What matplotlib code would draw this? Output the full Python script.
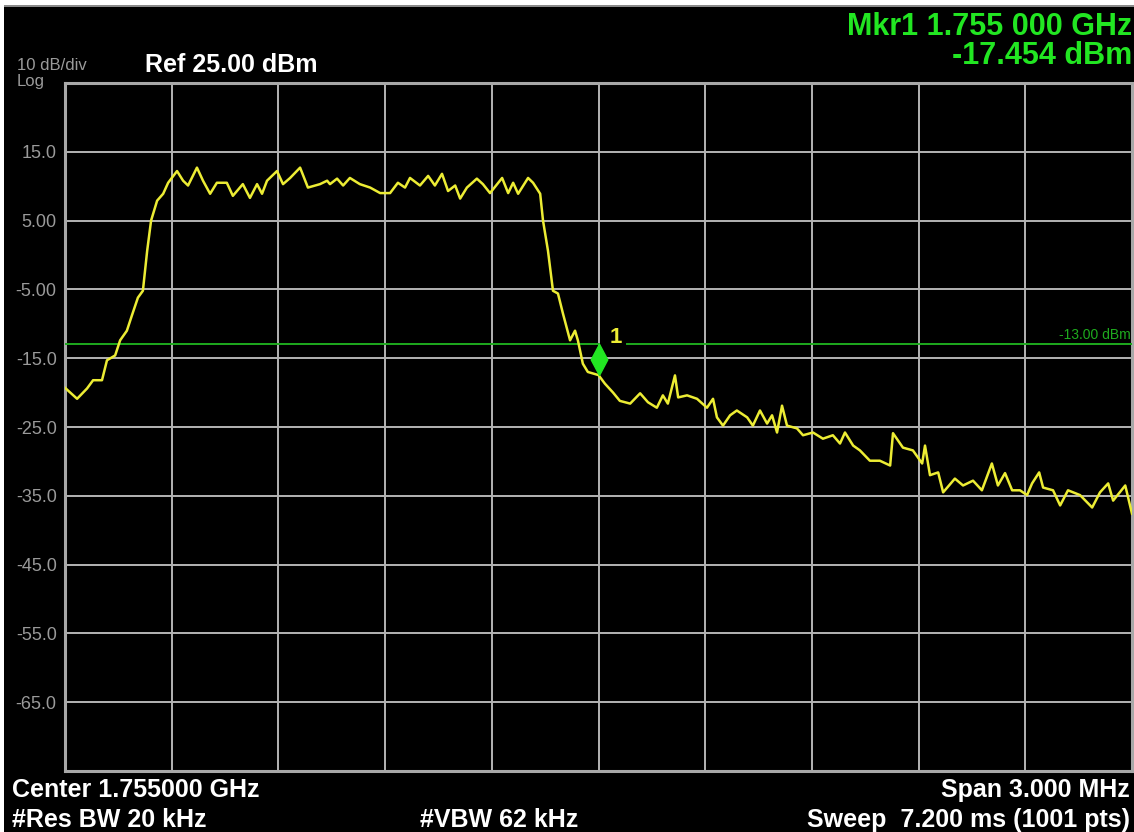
'''
Spectrum analyser screen: LTE-like channel at 1.755 GHz with -13 dBm limit
'''

import numpy as np
import matplotlib
matplotlib.use('Agg')
import matplotlib.pyplot as plt
from matplotlib.path import Path

# frequency offset from centre [MHz] and level [dBm]
freq_mhz = [-1.500, -1.466, -1.438, -1.421, -1.396, -1.382, -1.359, -1.345, -1.326,
            -1.312, -1.295, -1.281, -1.269, -1.258, -1.241, -1.224, -1.210, -1.185,
            -1.168, -1.154, -1.129, -1.112, -1.092, -1.073, -1.045, -1.028, -1.000,
            -0.980, -0.960, -0.946, -0.932, -0.904, -0.887, -0.867, -0.839, -0.817,
            -0.783, -0.763, -0.755, -0.735, -0.718, -0.699, -0.671, -0.642, -0.614,
            -0.586, -0.564, -0.544, -0.530, -0.502, -0.479, -0.460, -0.440, -0.423,
            -0.403, -0.389, -0.370, -0.342, -0.325, -0.305, -0.271, -0.254, -0.240,
            -0.226, -0.198, -0.184, -0.164, -0.156, -0.142, -0.128, -0.114, -0.100,
            -0.080, -0.066, -0.058, -0.044, -0.030, 0.000, 0.018, 0.041, 0.060,
            0.089, 0.117, 0.139, 0.164, 0.181, 0.195, 0.215, 0.224, 0.249, 0.277,
            0.305, 0.322, 0.333, 0.350, 0.370, 0.389, 0.418, 0.434, 0.454, 0.474,
            0.488, 0.502, 0.516, 0.530, 0.558, 0.575, 0.603, 0.631, 0.659, 0.679,
            0.693, 0.716, 0.735, 0.763, 0.791, 0.820, 0.828, 0.856, 0.884, 0.910,
            0.918, 0.932, 0.955, 0.969, 1.002, 1.025, 1.053, 1.078, 1.106, 1.123,
            1.143, 1.163, 1.185, 1.205, 1.219, 1.239, 1.250, 1.278, 1.298, 1.320,
            1.354, 1.388, 1.410, 1.433, 1.447, 1.481, 1.500]
level_dbm = [-19.3, -20.9, -19.4, -18.2, -18.2, -15.3, -14.6, -12.4, -11.0,
             -8.8, -6.2, -5.2, 0.6, 5.0, 7.9, 8.9, 10.5, 12.2,
             10.8, 10.1, 12.7, 10.8, 8.9, 10.5, 10.5, 8.6, 10.3,
             8.3, 10.3, 8.9, 10.8, 12.2, 10.3, 11.2, 12.7, 9.8,
             10.3, 10.8, 10.3, 11.1, 10.1, 11.2, 10.3, 9.8, 9.0,
             9.0, 10.5, 9.8, 11.2, 10.1, 11.5, 10.1, 11.8, 9.3,
             10.1, 8.2, 9.8, 11.1, 10.3, 9.0, 11.2, 9.0, 10.5,
             8.9, 11.2, 10.5, 8.9, 5.0, 0.6, -5.2, -5.6, -8.5,
             -12.4, -11.0, -12.4, -15.8, -17.0, -17.454, -18.7, -20.0, -21.2,
             -21.6, -20.1, -21.4, -22.2, -20.4, -21.6, -17.5, -20.7, -20.4, -20.9,
             -22.2, -20.9, -23.6, -24.8, -23.3, -22.6, -23.6, -24.8, -22.6, -24.5,
             -23.3, -25.8, -21.9, -24.8, -25.2, -26.2, -25.8, -26.7, -26.2, -27.4,
             -25.8, -27.7, -28.4, -29.9, -29.9, -30.6, -25.9, -28.0, -28.4, -30.3,
             -27.7, -32.0, -31.6, -34.5, -32.5, -33.5, -32.8, -34.2, -30.3, -33.5,
             -31.7, -34.2, -34.2, -34.9, -33.2, -31.6, -33.8, -34.2, -36.4, -34.2,
             -34.9, -36.7, -34.5, -33.2, -35.7, -33.5, -37.6]

ref_level = 25.0
db_per_div = 10.0
span_mhz = 3.0
limit_dbm = -13.0
marker_mhz = 0.0
marker_dbm = -17.454
ytick_labels = ['15.0', '5.00', '-5.00', '-15.0', '-25.0', '-35.0', '-45.0', '-55.0', '-65.0']

W, H = 1134, 832
BG = 'black'
GRID = '#b4b4b4'
TRACE = '#ecec34'
GREEN = '#22e622'
LABEL = '#9a9a9a'


def fig_xy(x, y):
    # pixel position on the screen -> figure fraction
    return x / W, 1 - y / H


plt.rc('font', family=['Liberation Sans', 'DejaVu Sans'])

fig = plt.figure(figsize=(W / 100, H / 100), dpi=100, facecolor=BG)

left, top = fig_xy(65, 83)
right, bottom = fig_xy(1132, 771)
ax = fig.add_axes([left, bottom, right - left, top - bottom], facecolor=BG)

bottom_db = ref_level - 10 * db_per_div
ax.set_ylim(bottom_db, ref_level)
ax.set_xlim(-span_mhz / 2, span_mhz / 2)

ax.set_xticks(np.linspace(-span_mhz / 2, span_mhz / 2, 11))
ax.set_yticks(np.arange(bottom_db, ref_level + 1, db_per_div))
ax.set_xticklabels([])
ax.set_yticklabels([''] + ytick_labels[::-1] + [''])
ax.tick_params(length=0, colors=LABEL, labelsize=13, pad=6)
ax.grid(True, color=GRID, lw=1.4)
ax.set_axisbelow(True)
for sp in ax.spines.values():
    sp.set_color('#a8a8a8')
    sp.set_linewidth(2.2)

# limit line with a gap around the marker label
gap = 0.08
ax.plot([-span_mhz / 2, marker_mhz], [limit_dbm, limit_dbm], color='#1eaa1e', lw=1.4, zorder=3)
ax.plot([marker_mhz + gap, span_mhz / 2], [limit_dbm, limit_dbm], color='#1eaa1e', lw=1.4, zorder=3)
ax.text(span_mhz / 2 - 0.003, limit_dbm + 0.4, '-13.00 dBm', color='#1eaa1e',
        fontsize=10, ha='right', va='bottom')

ax.plot(freq_mhz, level_dbm, color=TRACE, lw=1.8, zorder=4)

# marker diamond sits on the trace with its lower tip
diamond = Path([(0, 0), (0.53, 1), (0, 2), (-0.53, 1), (0, 0)],
               [Path.MOVETO, Path.LINETO, Path.LINETO, Path.LINETO, Path.CLOSEPOLY])
ax.plot([marker_mhz], [marker_dbm], marker=diamond, ms=45, color=GREEN,
        mec=GREEN, zorder=5, ls='none')
ax.annotate('1', (marker_mhz, marker_dbm), xytext=(11, 27), textcoords='offset pixels',
            color=TRACE, fontsize=16, fontweight='bold', ha='left', va='bottom')

# screen annotations
fig.text(*fig_xy(17, 70), '10 dB/div', color=LABEL, fontsize=12, va='baseline')
fig.text(*fig_xy(17, 86), 'Log', color=LABEL, fontsize=12, va='baseline')
fig.text(*fig_xy(145, 72), 'Ref 25.00 dBm', color='white', fontsize=18,
         fontweight='bold', va='baseline')
fig.text(*fig_xy(1132, 35), 'Mkr1 1.755 000 GHz', color=GREEN, fontsize=22,
         fontweight='bold', ha='right', va='baseline')
fig.text(*fig_xy(1132, 64), '-17.454 dBm', color=GREEN, fontsize=22,
         fontweight='bold', ha='right', va='baseline')

fig.text(*fig_xy(12, 797), 'Center 1.755000 GHz', color='white', fontsize=18,
         fontweight='bold', va='baseline')
fig.text(*fig_xy(12, 827), '#Res BW 20 kHz', color='white', fontsize=18,
         fontweight='bold', va='baseline')
fig.text(*fig_xy(420, 827), '#VBW 62 kHz', color='white', fontsize=18,
         fontweight='bold', va='baseline')
fig.text(*fig_xy(1130, 797), 'Span 3.000 MHz', color='white', fontsize=18,
         fontweight='bold', ha='right', va='baseline')
fig.text(*fig_xy(1130, 827), 'Sweep  7.200 ms (1001 pts)', color='white', fontsize=18,
         fontweight='bold', ha='right', va='baseline')

# thin white page edge on top and left of the screenshot
fig.patches.append(plt.Rectangle((0, 1 - 5 / H), 1, 5 / H, transform=fig.transFigure,
                                 facecolor='white', edgecolor='none'))
fig.patches.append(plt.Rectangle((0, 1 - 7 / H), 1, 2 / H, transform=fig.transFigure,
                                 facecolor='#8a8a8a', edgecolor='none'))
fig.patches.append(plt.Rectangle((0, 0), 4 / W, 1, transform=fig.transFigure,
                                 facecolor='white', edgecolor='none'))

plt.savefig('out.png', dpi=100, facecolor=BG)
